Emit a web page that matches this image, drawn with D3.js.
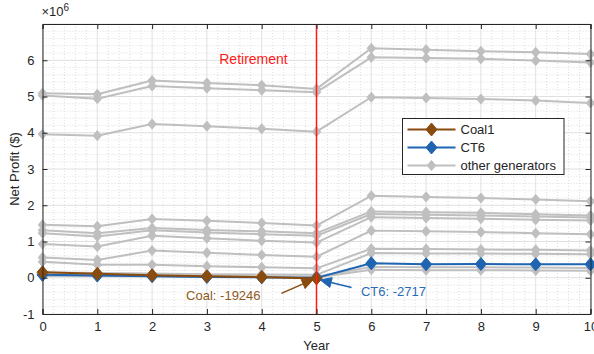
<!DOCTYPE html>
<html>
<head>
<meta charset="utf-8">
<script src="https://cdn.jsdelivr.net/npm/d3@7/dist/d3.min.js"></script>
<style>
    body { margin: 0; background: #fff; }
    text { font-family: Arial, "Liberation Sans", sans-serif; }
</style>
</head>
<body>
<script>
// data (net profit, $)
var years = [0, 1, 2, 3, 4, 5, 6, 7, 8, 9, 10];
var coalYears = [0, 1, 2, 3, 4, 5];
var coal1 = [150000, 110000, 70000, 40000, 20000, -19246];
var ct6 = [80000, 60000, 40000, 20000, 10000, -2717, 400000, 370000, 380000, 370000, 370000];

// other generators (millions)
var other1 = [5.09, 5.06, 5.44, 5.37, 5.31, 5.21, 6.33, 6.29, 6.25, 6.22, 6.17];
var other2 = [5.03, 4.94, 5.29, 5.23, 5.17, 5.12, 6.08, 6.06, 6.04, 5.99, 5.94];
var other3 = [3.96, 3.92, 4.24, 4.18, 4.11, 4.03, 4.98, 4.96, 4.93, 4.89, 4.82];
var other4 = [1.46, 1.42, 1.62, 1.57, 1.51, 1.44, 2.26, 2.23, 2.20, 2.16, 2.11];
var other5 = [1.31, 1.23, 1.37, 1.32, 1.28, 1.23, 1.83, 1.81, 1.79, 1.75, 1.72];
var other6 = [1.23, 1.14, 1.31, 1.25, 1.20, 1.16, 1.76, 1.74, 1.72, 1.69, 1.66];
var other7 = [0.93, 0.86, 1.16, 1.09, 1.02, 0.97, 1.67, 1.65, 1.63, 1.60, 1.58];
var other8 = [0.56, 0.49, 0.75, 0.69, 0.63, 0.58, 1.30, 1.28, 1.26, 1.23, 1.20];
var other9 = [0.44, 0.36, 0.36, 0.32, 0.29, 0.26, 0.80, 0.79, 0.78, 0.77, 0.75];
var other10 = [0.15, 0.13, 0.12, 0.10, 0.09, 0.08, 0.68, 0.67, 0.67, 0.66, 0.65];
var other11 = [0.10, 0.08, 0.07, 0.05, 0.04, 0.03, 0.30, 0.29, 0.29, 0.28, 0.27];
var other12 = [0.05, 0.04, 0.04, 0.03, 0.02, 0.01, 0.22, 0.21, 0.21, 0.20, 0.19];
var others = [other1, other2, other3, other4, other5, other6, other7, other8, other9, other10, other11, other12];

var xTicks = [0, 1, 2, 3, 4, 5, 6, 7, 8, 9, 10];
var yTicks = [-1, 0, 1, 2, 3, 4, 5, 6];
var retireYear = 5;

var margin = { top: 24, right: 3.5, bottom: 40, left: 42.5 }
    , width = 594 - margin.left - margin.right
    , height = 354 - margin.top - margin.bottom;

var brown = "#8a4b0f", blue = "#1f64b1", gray = "#bfbfbf", axisColor = "#262626";

var svg = d3.select("body").append("svg")
    .attr("width", 594)
    .attr("height", 354)
    .append("g")
    .attr("transform", "translate(" + margin.left + "," + margin.top + ")");

var xScale = d3.scaleLinear().domain([0, 10]).range([0, width]);
var yScale = d3.scaleLinear().domain([-1e6, 7e6]).range([height, 0]); // values in $

// minor grid (dotted)
var xMinor = d3.range(0, 10.001, 0.2).filter(function (d) { return Math.abs(d - Math.round(d)) > 1e-6; });
var yMinor = d3.range(-1, 7.001, 0.2).filter(function (d) { return Math.abs(d - Math.round(d)) > 1e-6; });
svg.append("g").selectAll("line").data(xMinor).enter().append("line")
    .attr("x1", function (d) { return xScale(d) }).attr("x2", function (d) { return xScale(d) })
    .attr("y1", 0).attr("y2", height)
    .attr("stroke", "#d4d4d4").attr("stroke-width", 0.8).attr("stroke-dasharray", "1,2");
svg.append("g").selectAll("line").data(yMinor).enter().append("line")
    .attr("y1", function (d) { return yScale(d * 1e6) }).attr("y2", function (d) { return yScale(d * 1e6) })
    .attr("x1", 0).attr("x2", width)
    .attr("stroke", "#d4d4d4").attr("stroke-width", 0.8).attr("stroke-dasharray", "1,2");

// major grid
svg.append("g").selectAll("line").data(xTicks).enter().append("line")
    .attr("x1", function (d) { return xScale(d) }).attr("x2", function (d) { return xScale(d) })
    .attr("y1", 0).attr("y2", height)
    .attr("stroke", "#e0e0e0").attr("stroke-width", 1);
svg.append("g").selectAll("line").data(yTicks.concat([7])).enter().append("line")
    .attr("y1", function (d) { return yScale(d * 1e6) }).attr("y2", function (d) { return yScale(d * 1e6) })
    .attr("x1", 0).attr("x2", width)
    .attr("stroke", "#e0e0e0").attr("stroke-width", 1);

// diamond marker
function diamond(r) {
    return "M0," + (-r) + "L" + (r * 0.85) + ",0L0," + r + "L" + (-r * 0.85) + ",0Z";
}

function drawSeries(xs, vals, scale, color, lw, r) {
    var pts = xs.map(function (x, i) { return [x, vals[i] * scale]; });
    svg.append("path")
        .datum(pts)
        .attr("fill", "none")
        .attr("stroke", color)
        .attr("stroke-width", lw)
        .attr("stroke-linejoin", "round")
        .attr("d", d3.line()
            .x(function (d) { return xScale(d[0]) })
            .y(function (d) { return yScale(d[1]) })
        );
    svg.append("g").selectAll("path").data(pts).enter().append("path")
        .attr("transform", function (d) { return "translate(" + xScale(d[0]) + "," + yScale(d[1]) + ")"; })
        .attr("d", diamond(r))
        .attr("fill", color)
        .attr("stroke", color)
        .attr("stroke-width", 1);
}

others.forEach(function (s) { drawSeries(years, s, 1e6, gray, 2, 5); });
drawSeries(years, ct6, 1, blue, 2, 6.5);
drawSeries(coalYears, coal1, 1, brown, 2, 6.5);

// retirement line
svg.append("line")
    .attr("x1", xScale(retireYear)).attr("x2", xScale(retireYear))
    .attr("y1", 0).attr("y2", height)
    .attr("stroke", "#ff1a1a").attr("stroke-width", 1.5);
svg.append("text")
    .attr("x", xScale(3.85)).attr("y", yScale(6.03e6))
    .attr("dy", "0.35em")
    .attr("text-anchor", "middle")
    .attr("fill", "#ff1a1a")
    .style("font-size", "14px")
    .text("Retirement");

// axes (ticks inside, box)
svg.append("g")
    .attr("class", "x axis")
    .attr("transform", "translate(0," + height + ")")
    .call(d3.axisBottom(xScale).tickValues(xTicks).tickSize(-5).tickPadding(8).tickFormat(d3.format("d")));
svg.append("g")
    .attr("class", "x axis top")
    .call(d3.axisTop(xScale).tickValues(xTicks).tickSize(-5).tickFormat(""));
svg.append("g")
    .attr("class", "y axis")
    .call(d3.axisLeft(yScale).tickValues(yTicks.map(function (d) { return d * 1e6; })).tickSize(-5).tickPadding(8)
        .tickFormat(function (d) { return d / 1e6; }));
svg.append("g")
    .attr("class", "y axis right")
    .attr("transform", "translate(" + width + ",0)")
    .call(d3.axisRight(yScale).tickValues(yTicks.map(function (d) { return d * 1e6; })).tickSize(-5).tickFormat(""));

svg.selectAll(".axis path").attr("stroke", axisColor).attr("stroke-width", 1);
svg.selectAll(".axis line").attr("stroke", axisColor);
svg.selectAll(".axis text").attr("fill", axisColor).style("font-size", "13px")
    .style("font-family", "Arial, 'Liberation Sans', sans-serif");

// exponent label
var expo = svg.append("text")
    .attr("x", -1).attr("y", -8)
    .attr("fill", axisColor)
    .style("font-size", "13px");
expo.append("tspan").text("\u00d710");
expo.append("tspan").attr("dy", -5).style("font-size", "10px").text("6");

// axis labels
svg.append("text")
    .attr("x", width / 2 + 0).attr("y", height + 36)
    .attr("text-anchor", "middle")
    .attr("fill", axisColor)
    .style("font-size", "13px")
    .text("Year");
svg.append("text")
    .attr("transform", "translate(-24," + (height / 2) + ") rotate(-90)")
    .attr("text-anchor", "middle")
    .attr("fill", axisColor)
    .style("font-size", "13px")
    .text("Net Profit ($)");

// annotations
function arrow(x1, y1, x2, y2, color) {
    var ax = xScale(x1), ay = yScale(y1), bx = xScale(x2), by = yScale(y2);
    var ang = Math.atan2(by - ay, bx - ax), len = 11, w = 5;
    var hx = bx - len * Math.cos(ang), hy = by - len * Math.sin(ang);
    svg.append("line")
        .attr("x1", ax).attr("y1", ay).attr("x2", hx).attr("y2", hy)
        .attr("stroke", color).attr("stroke-width", 1.5);
    var p1 = [hx + w * Math.sin(ang), hy - w * Math.cos(ang)];
    var p2 = [hx - w * Math.sin(ang), hy + w * Math.cos(ang)];
    svg.append("path")
        .attr("d", "M" + bx + "," + by + "L" + p1[0] + "," + p1[1] + "L" + hx + "," + hy + "L" + p2[0] + "," + p2[1] + "Z")
        .attr("fill", color).attr("stroke", color).attr("stroke-width", 1);
}

arrow(4.36, -0.43e6, 4.94, -0.05e6, brown);
arrow(5.64, -0.27e6, 5.07, -0.06e6, blue);

svg.append("text")
    .attr("x", xScale(3.3)).attr("y", yScale(-0.48e6))
    .attr("dy", "0.35em").attr("text-anchor", "middle")
    .attr("fill", "#8f5a1c")
    .style("font-size", "13px")
    .text("Coal: -19246");
svg.append("text")
    .attr("x", xScale(5.81)).attr("y", yScale(-0.39e6))
    .attr("dy", "0.35em")
    .attr("fill", "#2b6cb8")
    .style("font-size", "13px")
    .text("CT6: -2717");

// legend
var legendItems = [
    { name: "Coal1", color: brown, r: 6.5 },
    { name: "CT6", color: blue, r: 6.5 },
    { name: "other generators", color: gray, r: 5 }
];
var lg = svg.append("g").attr("transform", "translate(" + (402.5 - margin.left) + "," + (118.5 - margin.top) + ")");
lg.append("rect")
    .attr("width", 161.5).attr("height", 56)
    .attr("fill", "#fff").attr("stroke", axisColor).attr("stroke-width", 1);
legendItems.forEach(function (d, i) {
    var yy = 11 + i * 18;
    lg.append("line")
        .attr("x1", 5).attr("x2", 53).attr("y1", yy).attr("y2", yy)
        .attr("stroke", d.color).attr("stroke-width", 2);
    lg.append("path")
        .attr("transform", "translate(29," + yy + ")")
        .attr("d", diamond(d.r))
        .attr("fill", d.color).attr("stroke", d.color);
    lg.append("text")
        .attr("x", 58).attr("y", yy).attr("dy", "0.35em")
        .attr("fill", axisColor)
        .style("font-size", "13px")
        .text(d.name);
});
</script>
</body>
</html>
